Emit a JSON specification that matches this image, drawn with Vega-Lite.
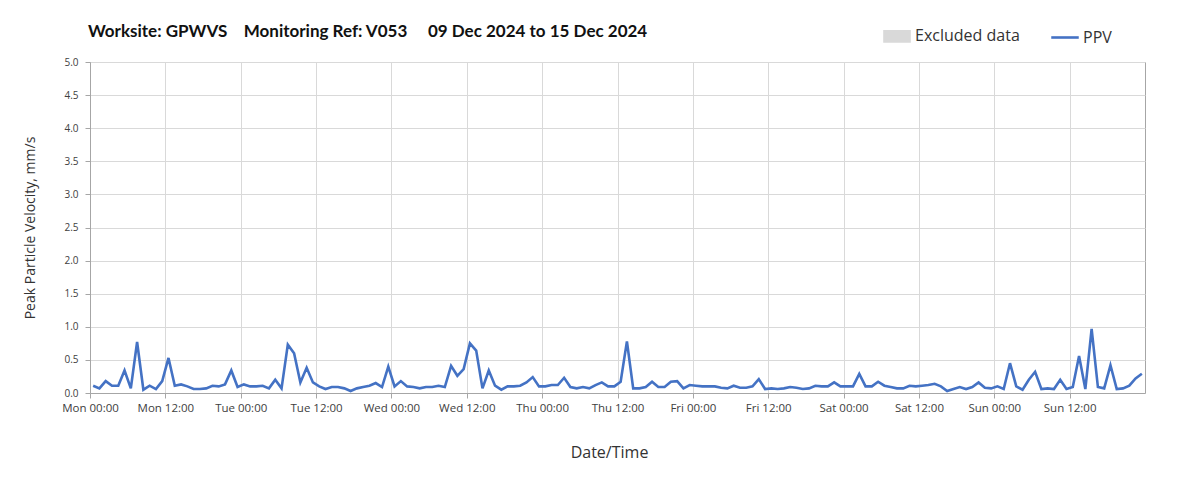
{
  "$schema": "https://vega.github.io/schema/vega-lite/v6.json",
  "width": 1055,
  "height": 331,
  "autosize": {"type": "none"},
  "padding": {"left": 90, "top": 62, "right": 58, "bottom": 97},
  "background": "#ffffff",
  "title": {
    "text": "Worksite: GPWVS\u00a0\u00a0\u00a0 Monitoring Ref: V053\u00a0\u00a0\u00a0\u00a0 09 Dec 2024 to 15 Dec 2024",
    "anchor": "start",
    "frame": "group",
    "font": "Lato",
    "fontSize": 17,
    "fontWeight": "bold",
    "color": "#111111",
    "offset": 16,
    "dx": -2,
    "dy": 35
  },
  "data": {
    "values": [
      {"t": "2024-12-09T00:30", "v": 0.11}, {"t": "2024-12-09T01:30", "v": 0.07}, {"t": "2024-12-09T02:30", "v": 0.18}, {"t": "2024-12-09T03:30", "v": 0.11},
      {"t": "2024-12-09T04:30", "v": 0.11}, {"t": "2024-12-09T05:30", "v": 0.34}, {"t": "2024-12-09T06:30", "v": 0.07}, {"t": "2024-12-09T07:30", "v": 0.77},
      {"t": "2024-12-09T08:30", "v": 0.05}, {"t": "2024-12-09T09:30", "v": 0.11}, {"t": "2024-12-09T10:30", "v": 0.06}, {"t": "2024-12-09T11:30", "v": 0.18},
      {"t": "2024-12-09T12:30", "v": 0.53}, {"t": "2024-12-09T13:30", "v": 0.11}, {"t": "2024-12-09T14:30", "v": 0.13}, {"t": "2024-12-09T15:30", "v": 0.10},
      {"t": "2024-12-09T16:30", "v": 0.06}, {"t": "2024-12-09T17:30", "v": 0.06}, {"t": "2024-12-09T18:30", "v": 0.07}, {"t": "2024-12-09T19:30", "v": 0.11},
      {"t": "2024-12-09T20:30", "v": 0.10}, {"t": "2024-12-09T21:30", "v": 0.13}, {"t": "2024-12-09T22:30", "v": 0.34}, {"t": "2024-12-09T23:30", "v": 0.09},
      {"t": "2024-12-10T00:30", "v": 0.13}, {"t": "2024-12-10T01:30", "v": 0.10}, {"t": "2024-12-10T02:30", "v": 0.10}, {"t": "2024-12-10T03:30", "v": 0.11},
      {"t": "2024-12-10T04:30", "v": 0.07}, {"t": "2024-12-10T05:30", "v": 0.20}, {"t": "2024-12-10T06:30", "v": 0.07}, {"t": "2024-12-10T07:30", "v": 0.73},
      {"t": "2024-12-10T08:30", "v": 0.60}, {"t": "2024-12-10T09:30", "v": 0.16}, {"t": "2024-12-10T10:30", "v": 0.38}, {"t": "2024-12-10T11:30", "v": 0.16},
      {"t": "2024-12-10T12:30", "v": 0.10}, {"t": "2024-12-10T13:30", "v": 0.06}, {"t": "2024-12-10T14:30", "v": 0.09}, {"t": "2024-12-10T15:30", "v": 0.09},
      {"t": "2024-12-10T16:30", "v": 0.07}, {"t": "2024-12-10T17:30", "v": 0.03}, {"t": "2024-12-10T18:30", "v": 0.07}, {"t": "2024-12-10T19:30", "v": 0.09},
      {"t": "2024-12-10T20:30", "v": 0.11}, {"t": "2024-12-10T21:30", "v": 0.15}, {"t": "2024-12-10T22:30", "v": 0.09}, {"t": "2024-12-10T23:30", "v": 0.40},
      {"t": "2024-12-11T00:30", "v": 0.10}, {"t": "2024-12-11T01:30", "v": 0.18}, {"t": "2024-12-11T02:30", "v": 0.10}, {"t": "2024-12-11T03:30", "v": 0.09},
      {"t": "2024-12-11T04:30", "v": 0.07}, {"t": "2024-12-11T05:30", "v": 0.09}, {"t": "2024-12-11T06:30", "v": 0.09}, {"t": "2024-12-11T07:30", "v": 0.11},
      {"t": "2024-12-11T08:30", "v": 0.09}, {"t": "2024-12-11T09:30", "v": 0.41}, {"t": "2024-12-11T10:30", "v": 0.26}, {"t": "2024-12-11T11:30", "v": 0.36},
      {"t": "2024-12-11T12:30", "v": 0.75}, {"t": "2024-12-11T13:30", "v": 0.64}, {"t": "2024-12-11T14:30", "v": 0.07}, {"t": "2024-12-11T15:30", "v": 0.34},
      {"t": "2024-12-11T16:30", "v": 0.11}, {"t": "2024-12-11T17:30", "v": 0.05}, {"t": "2024-12-11T18:30", "v": 0.10}, {"t": "2024-12-11T19:30", "v": 0.10},
      {"t": "2024-12-11T20:30", "v": 0.11}, {"t": "2024-12-11T21:30", "v": 0.16}, {"t": "2024-12-11T22:30", "v": 0.24}, {"t": "2024-12-11T23:30", "v": 0.10},
      {"t": "2024-12-12T00:30", "v": 0.10}, {"t": "2024-12-12T01:30", "v": 0.12}, {"t": "2024-12-12T02:30", "v": 0.12}, {"t": "2024-12-12T03:30", "v": 0.23},
      {"t": "2024-12-12T04:30", "v": 0.09}, {"t": "2024-12-12T05:30", "v": 0.07}, {"t": "2024-12-12T06:30", "v": 0.09}, {"t": "2024-12-12T07:30", "v": 0.07},
      {"t": "2024-12-12T08:30", "v": 0.12}, {"t": "2024-12-12T09:30", "v": 0.16}, {"t": "2024-12-12T10:30", "v": 0.10}, {"t": "2024-12-12T11:30", "v": 0.10},
      {"t": "2024-12-12T12:30", "v": 0.17}, {"t": "2024-12-12T13:30", "v": 0.78}, {"t": "2024-12-12T14:30", "v": 0.07}, {"t": "2024-12-12T15:30", "v": 0.07},
      {"t": "2024-12-12T16:30", "v": 0.09}, {"t": "2024-12-12T17:30", "v": 0.17}, {"t": "2024-12-12T18:30", "v": 0.09}, {"t": "2024-12-12T19:30", "v": 0.09},
      {"t": "2024-12-12T20:30", "v": 0.17}, {"t": "2024-12-12T21:30", "v": 0.18}, {"t": "2024-12-12T22:30", "v": 0.07}, {"t": "2024-12-12T23:30", "v": 0.12},
      {"t": "2024-12-13T00:30", "v": 0.11}, {"t": "2024-12-13T01:30", "v": 0.10}, {"t": "2024-12-13T02:30", "v": 0.10}, {"t": "2024-12-13T03:30", "v": 0.10},
      {"t": "2024-12-13T04:30", "v": 0.08}, {"t": "2024-12-13T05:30", "v": 0.07}, {"t": "2024-12-13T06:30", "v": 0.11}, {"t": "2024-12-13T07:30", "v": 0.08},
      {"t": "2024-12-13T08:30", "v": 0.08}, {"t": "2024-12-13T09:30", "v": 0.10}, {"t": "2024-12-13T10:30", "v": 0.21}, {"t": "2024-12-13T11:30", "v": 0.06},
      {"t": "2024-12-13T12:30", "v": 0.07}, {"t": "2024-12-13T13:30", "v": 0.06}, {"t": "2024-12-13T14:30", "v": 0.07}, {"t": "2024-12-13T15:30", "v": 0.09},
      {"t": "2024-12-13T16:30", "v": 0.08}, {"t": "2024-12-13T17:30", "v": 0.06}, {"t": "2024-12-13T18:30", "v": 0.07}, {"t": "2024-12-13T19:30", "v": 0.11},
      {"t": "2024-12-13T20:30", "v": 0.10}, {"t": "2024-12-13T21:30", "v": 0.10}, {"t": "2024-12-13T22:30", "v": 0.16}, {"t": "2024-12-13T23:30", "v": 0.10},
      {"t": "2024-12-14T00:30", "v": 0.10}, {"t": "2024-12-14T01:30", "v": 0.10}, {"t": "2024-12-14T02:30", "v": 0.29}, {"t": "2024-12-14T03:30", "v": 0.10},
      {"t": "2024-12-14T04:30", "v": 0.10}, {"t": "2024-12-14T05:30", "v": 0.17}, {"t": "2024-12-14T06:30", "v": 0.11}, {"t": "2024-12-14T07:30", "v": 0.09},
      {"t": "2024-12-14T08:30", "v": 0.07}, {"t": "2024-12-14T09:30", "v": 0.07}, {"t": "2024-12-14T10:30", "v": 0.11}, {"t": "2024-12-14T11:30", "v": 0.10},
      {"t": "2024-12-14T12:30", "v": 0.11}, {"t": "2024-12-14T13:30", "v": 0.12}, {"t": "2024-12-14T14:30", "v": 0.14}, {"t": "2024-12-14T15:30", "v": 0.10},
      {"t": "2024-12-14T16:30", "v": 0.03}, {"t": "2024-12-14T17:30", "v": 0.06}, {"t": "2024-12-14T18:30", "v": 0.09}, {"t": "2024-12-14T19:30", "v": 0.06},
      {"t": "2024-12-14T20:30", "v": 0.09}, {"t": "2024-12-14T21:30", "v": 0.16}, {"t": "2024-12-14T22:30", "v": 0.08}, {"t": "2024-12-14T23:30", "v": 0.07},
      {"t": "2024-12-15T00:30", "v": 0.10}, {"t": "2024-12-15T01:30", "v": 0.06}, {"t": "2024-12-15T02:30", "v": 0.45}, {"t": "2024-12-15T03:30", "v": 0.10},
      {"t": "2024-12-15T04:30", "v": 0.05}, {"t": "2024-12-15T05:30", "v": 0.20}, {"t": "2024-12-15T06:30", "v": 0.32}, {"t": "2024-12-15T07:30", "v": 0.06},
      {"t": "2024-12-15T08:30", "v": 0.07}, {"t": "2024-12-15T09:30", "v": 0.06}, {"t": "2024-12-15T10:30", "v": 0.20}, {"t": "2024-12-15T11:30", "v": 0.06},
      {"t": "2024-12-15T12:30", "v": 0.09}, {"t": "2024-12-15T13:30", "v": 0.56}, {"t": "2024-12-15T14:30", "v": 0.06}, {"t": "2024-12-15T15:30", "v": 0.97},
      {"t": "2024-12-15T16:30", "v": 0.09}, {"t": "2024-12-15T17:30", "v": 0.07}, {"t": "2024-12-15T18:30", "v": 0.42}, {"t": "2024-12-15T19:30", "v": 0.06},
      {"t": "2024-12-15T20:30", "v": 0.07}, {"t": "2024-12-15T21:30", "v": 0.11}, {"t": "2024-12-15T22:30", "v": 0.22}, {"t": "2024-12-15T23:30", "v": 0.29}
    ]
  },
  "mark": {"type": "line", "strokeWidth": 2.6, "interpolate": "linear", "clip": true},
  "encoding": {
    "x": {
      "field": "t",
      "type": "temporal",
      "scale": {
        "domain": [
          {"year": 2024, "month": 12, "date": 9, "hours": 0},
          {"year": 2024, "month": 12, "date": 16, "hours": 0}
        ],
        "nice": false
      },
      "axis": {
        "title": "Date/Time",
        "format": "%a %H:%M",
        "values": [
          {"year": 2024, "month": 12, "date": 9, "hours": 0},
          {"year": 2024, "month": 12, "date": 9, "hours": 12},
          {"year": 2024, "month": 12, "date": 10, "hours": 0},
          {"year": 2024, "month": 12, "date": 10, "hours": 12},
          {"year": 2024, "month": 12, "date": 11, "hours": 0},
          {"year": 2024, "month": 12, "date": 11, "hours": 12},
          {"year": 2024, "month": 12, "date": 12, "hours": 0},
          {"year": 2024, "month": 12, "date": 12, "hours": 12},
          {"year": 2024, "month": 12, "date": 13, "hours": 0},
          {"year": 2024, "month": 12, "date": 13, "hours": 12},
          {"year": 2024, "month": 12, "date": 14, "hours": 0},
          {"year": 2024, "month": 12, "date": 14, "hours": 12},
          {"year": 2024, "month": 12, "date": 15, "hours": 0},
          {"year": 2024, "month": 12, "date": 15, "hours": 12}
        ],
        "labelFont": "Open Sans",
        "labelFontSize": 11.5,
        "labelColor": "#404040",
        "labelPadding": 4,
        "labelOverlap": false,
        "labelFlush": false,
        "tickSize": 5,
        "tickColor": "#a6a6a6",
        "domainColor": "#a6a6a6",
        "grid": true,
        "gridColor": "#d9d9d9",
        "titleFont": "Open Sans",
        "titleFontSize": 16,
        "titleFontWeight": "normal",
        "titleColor": "#333333",
        "titlePadding": 31,
        "titleX": 519
      }
    },
    "y": {
      "field": "v",
      "type": "quantitative",
      "scale": {"domain": [0, 5], "nice": false},
      "axis": {
        "title": "Peak Particle Velocity, mm/s",
        "values": [0, 0.5, 1, 1.5, 2, 2.5, 3, 3.5, 4, 4.5, 5],
        "format": ".1f",
        "labelFont": "Open Sans",
        "labelFontSize": 10,
        "labelColor": "#404040",
        "labelPadding": 7,
        "tickSize": 5,
        "tickColor": "#a6a6a6",
        "domainColor": "#a6a6a6",
        "grid": true,
        "gridColor": "#d9d9d9",
        "titleFont": "Open Sans",
        "titleFontSize": 14,
        "titleFontWeight": "normal",
        "titleColor": "#333333",
        "titlePadding": 26
      }
    },
    "color": {
      "datum": "PPV",
      "type": "nominal",
      "scale": {"domain": ["Excluded data", "PPV"], "range": ["#d9d9d9", "#4472C4"]},
      "legend": {
        "title": null,
        "orient": "none",
        "direction": "horizontal",
        "legendX": 793,
        "legendY": -40,
        "padding": 0,
        "columnPadding": 26,
        "symbolSize": 625,
        "labelFont": "Open Sans",
        "labelFontSize": 16,
        "labelColor": "#333333",
        "labelOffset": 4,
        "encode": {
          "symbols": {
            "update": {
              "shape": {"signal": "datum.value === 'PPV' ? 'M-1.1,0H1.1' : 'M-1,-0.4H1V0.4H-1Z'"},
              "fill": {"signal": "datum.value === 'PPV' ? 'transparent' : '#d9d9d9'"},
              "stroke": {"signal": "datum.value === 'PPV' ? '#4472C4' : 'transparent'"},
              "strokeWidth": {"value": 2.6},
              "size": {"value": 625},
              "opacity": {"value": 1}
            }
          }
        }
      }
    }
  },
  "config": {
    "view": {"stroke": "#a6a6a6", "strokeWidth": 1}
  }
}
